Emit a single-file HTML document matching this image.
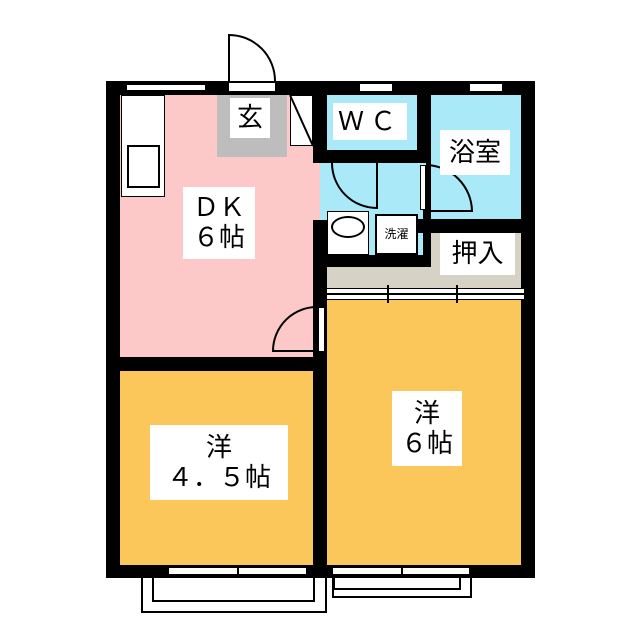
<!DOCTYPE html>
<html><head><meta charset="utf-8"><style>
body{margin:0;width:640px;height:640px;background:#fff;position:relative;overflow:hidden;font-family:"Liberation Sans","Noto Sans CJK JP",sans-serif}
div{position:absolute;box-sizing:border-box}
.k{background:#000}
.l{background:#fff;display:flex;align-items:center;justify-content:center;text-align:center;line-height:1.15;color:#000}
</style></head><body>
<!-- outer wall -->
<div class="k" style="left:106px;top:81px;width:429px;height:497px"></div>
<!-- rooms -->
<div style="left:120px;top:95px;width:193px;height:262px;background:#fcc8c8"></div>
<div style="left:313px;top:163px;width:14px;height:57px;background:#fcc8c8"></div>
<div style="left:120px;top:371px;width:193px;height:194px;background:#fcc75a"></div>
<div style="left:327px;top:95px;width:90px;height:55px;background:#aaeaf8"></div>
<div style="left:431px;top:95px;width:90px;height:124px;background:#aaeaf8"></div>
<div style="left:320px;top:163px;width:111px;height:50px;background:#aaeaf8"></div>
<div style="left:320px;top:163px;width:105px;height:92px;background:#aaeaf8"></div>
<div style="left:431px;top:233px;width:90px;height:55px;background:#d6d3c6"></div>
<div style="left:327px;top:267px;width:104px;height:21px;background:#d6d3c6"></div>
<div style="left:327px;top:300px;width:194px;height:265px;background:#fcc75a"></div>
<!-- door strips / windows -->
<div style="left:318px;top:307px;width:7px;height:45px;background:#fff;border:1px solid #000"></div>
<div style="left:420px;top:165px;width:6px;height:45px;background:#fff;border:1px solid #000"></div>
<div style="left:332px;top:153px;width:46px;height:6px;background:#fff;border:1px solid #000"></div>
<div style="left:322px;top:288px;width:203px;height:12px;background:#fff;border:1px solid #000"></div>
<div style="left:322px;top:293px;width:203px;height:2px;background:#000"></div>
<div style="left:127px;top:84px;width:78px;height:7px;background:#fff;border-top:1px solid #000;border-bottom:1px solid #000"></div>
<div style="left:229px;top:83px;width:46px;height:8px;background:#fff"></div>
<div style="left:360px;top:84px;width:32px;height:7px;background:#fff"></div>
<div style="left:470px;top:84px;width:32px;height:7px;background:#fff"></div>
<div style="left:172px;top:361px;width:136px;height:8px;background:#fff;border-top:1px solid #000;border-bottom:1px solid #000"></div>
<div style="left:169px;top:567px;width:137px;height:8px;background:#fff;border-top:1px solid #000;border-bottom:1px solid #000"></div>
<div style="left:333px;top:567px;width:136px;height:8px;background:#fff;border-top:1px solid #000;border-bottom:1px solid #000"></div>
<!-- balconies -->
<div style="left:141px;top:578px;width:186px;height:35px;border:2px solid #000;border-top:none"></div>
<div style="left:152px;top:578px;width:163px;height:24px;border:2px solid #000;border-top:none"></div>
<div style="left:332px;top:578px;width:140px;height:20px;border:2px solid #000;border-top:none"></div>
<div style="left:333px;top:578px;width:128px;height:12px;border:2px solid #000;border-top:none"></div>
<!-- interior walls -->
<div class="k" style="left:313px;top:95px;width:14px;height:68px"></div>
<div class="k" style="left:313px;top:150px;width:118px;height:13px"></div>
<div class="k" style="left:417px;top:95px;width:14px;height:68px"></div>
<div class="k" style="left:426px;top:163px;width:5px;height:70px"></div>
<div class="k" style="left:417px;top:219px;width:118px;height:14px"></div>
<div class="k" style="left:313px;top:220px;width:14px;height:87px"></div>
<div class="k" style="left:313px;top:352px;width:14px;height:213px"></div>
<div class="k" style="left:327px;top:255px;width:104px;height:12px"></div>
<div class="k" style="left:106px;top:357px;width:214px;height:14px"></div>
<div class="k" style="left:423px;top:210px;width:8px;height:57px"></div>
<!-- kitchen -->
<div style="left:121px;top:95px;width:44px;height:102px;background:#fff;border:1px solid #000"></div>
<div style="left:127px;top:145px;width:33px;height:43px;border:2px solid #000;background:#fff"></div>
<!-- genkan -->
<div style="left:217px;top:95px;width:70px;height:62px;background:#bdbdbd"></div>
<div style="left:290px;top:95px;width:23px;height:51px;background:#fff;border:1px solid #000"></div>
<!-- sink & washer -->
<div style="left:327px;top:211px;width:42px;height:44px;background:#fff;border:1px solid #000"></div>
<div style="left:331px;top:216px;width:34px;height:22px;border:2px solid #000;border-radius:50%"></div>
<div class="l" style="left:375px;top:214px;width:43px;height:41px;border:2px solid #000;font-size:12px">洗濯</div>
<svg style="position:absolute;left:0;top:0" width="640" height="640" fill="none" stroke="#000" stroke-width="2">
<path d="M229 83 V35 A46 46 0 0 1 275 81"/>
<path d="M290 95 L313 146"/>
<path d="M332 163 A45 45 0 0 0 377 208 V160"/>
<path d="M426 165 A47 47 0 0 1 472 211 H426"/>
<path d="M318 307 A44 44 0 0 0 273 351 H318"/>
<path d="M388 285 v18 M457 285 v18 M239 358 v12 M238 565 v12 M402 565 v12"/>
</svg>
<!-- labels -->
<div class="l" style="left:230px;top:98px;width:40px;height:40px;font-size:26px">玄</div>
<div class="l" style="left:333px;top:103px;width:74px;height:37px;font-size:26px;letter-spacing:6px">ＷＣ</div>
<div class="l" style="left:440px;top:130px;width:70px;height:45px;font-size:26px">浴室</div>
<div class="l" style="left:183px;top:187px;width:72px;height:72px;font-size:26px">ＤＫ<br>６帖</div>
<div class="l" style="left:440px;top:233px;width:75px;height:42px;font-size:26px">押入</div>
<div class="l" style="left:150px;top:425px;width:138px;height:75px;font-size:26px">洋<br>４．５帖</div>
<div class="l" style="left:392px;top:391px;width:70px;height:75px;font-size:26px">洋<br>６帖</div>
</body></html>
